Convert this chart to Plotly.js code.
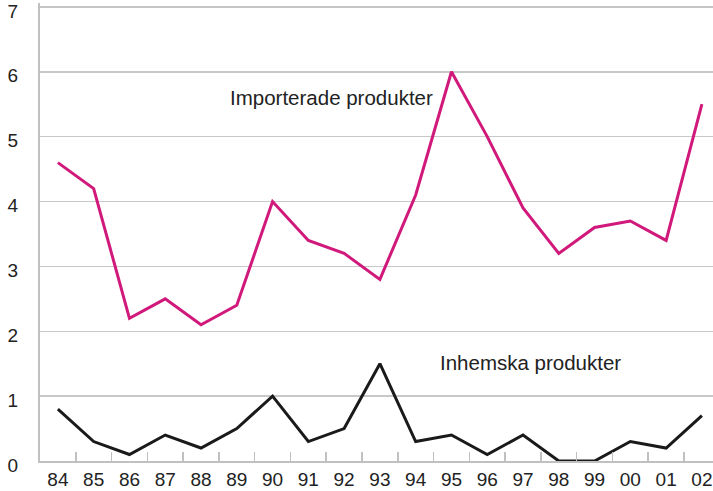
<!DOCTYPE html>
<html><head><meta charset="utf-8">
<script src="https://cdn.plot.ly/plotly-3.0.1.min.js"></script>
<style>html,body{margin:0;padding:0;background:#fff;}#chart{width:713px;height:491px;}</style>
</head><body><div id="chart"></div>
<script>
const years = ['84','85','86','87','88','89','90','91','92','93','94','95','96','97','98','99','00','01','02'];
const importerade = [4.6,4.2,2.2,2.5,2.1,2.4,4.0,3.4,3.2,2.8,4.1,6.0,5.0,3.9,3.2,3.6,3.7,3.4,5.5];
const inhemska = [0.8,0.3,0.1,0.4,0.2,0.5,1.0,0.3,0.5,1.5,0.3,0.4,0.1,0.4,0.0,0.0,0.3,0.2,0.7];
const yTicks = [0,1,2,3,4,5,6,7];
const labelImport = 'Importerade produkter';
const labelInhemska = 'Inhemska produkter';

const font = {family: 'Liberation Sans, Arial, sans-serif', size: 19, color: '#222'};
const annFont = {family: 'Liberation Sans, Arial, sans-serif', size: 20.5, color: '#222'};
const yMax = yTicks[yTicks.length - 1];
const data = [
  {x: years, y: importerade, type: 'scatter', mode: 'lines', line: {color: '#d0197a', width: 3}, hoverinfo: 'skip'},
  {x: years, y: inhemska, type: 'scatter', mode: 'lines', line: {color: '#1a1a1a', width: 3}, hoverinfo: 'skip'}
];
const layout = {
  width: 713, height: 491,
  margin: {l: 40, r: 0, t: 3, b: 30},
  paper_bgcolor: '#fff', plot_bgcolor: '#fff',
  showlegend: false,
  font: font,
  xaxis: {
    type: 'category', range: [-0.5, 18.31],
    tickson: 'boundaries', ticks: 'inside', ticklen: 9, tickwidth: 1.5, tickcolor: '#c0c0c0',
    showgrid: false, zeroline: false,
    showline: true, linecolor: '#c0c0c0', linewidth: 2,
    tickfont: font, ticklabelstandoff: 0
  },
  yaxis: {
    range: [0, 7.06], tickvals: yTicks, ticktext: yTicks.map(String),
    showgrid: true, gridcolor: '#c8c8c8', gridwidth: 1.5,
    zeroline: false, showline: true, linecolor: '#c0c0c0', linewidth: 2,
    ticks: '', tickfont: font, ticklabelstandoff: 16, ticklabeloverflow: 'allow', ticklabelshift: 4
  },
  annotations: [
    {x: 7.66, y: 5.6, xref: 'x', yref: 'y', text: labelImport, showarrow: false, font: annFont, xanchor: 'center', yanchor: 'middle'},
    {x: 13.2, y: 1.52, xref: 'x', yref: 'y', text: labelInhemska, showarrow: false, font: annFont, xanchor: 'center', yanchor: 'middle'}
  ],
  shapes: [
    {type: 'line', xref: 'paper', yref: 'y', x0: 0, x1: 1, y0: yMax, y1: yMax, layer: 'above', line: {color: '#c4c4c4', width: 2}}
  ]
};
Plotly.newPlot('chart', data, layout, {displayModeBar: false, staticPlot: true});
</script></body></html>
